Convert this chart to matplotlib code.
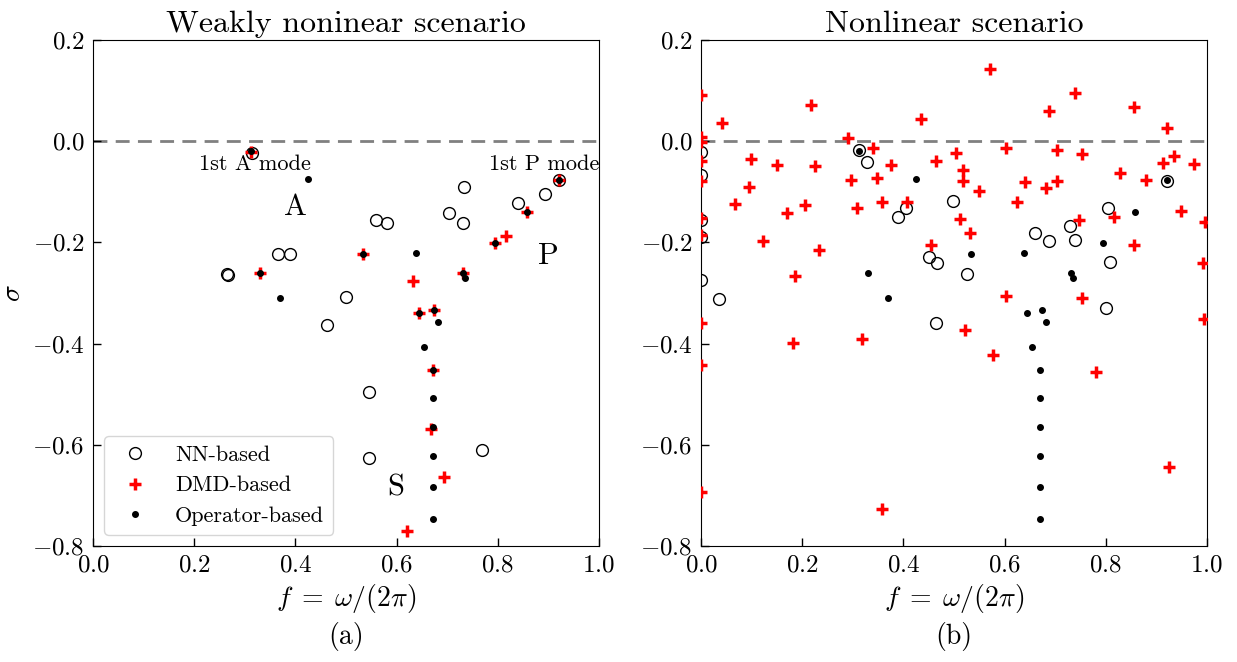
import matplotlib
matplotlib.use("Agg")
import matplotlib.pyplot as plt

plt.rcParams['font.family'] = 'serif'
plt.rcParams['font.serif'] = ['cmr10']
plt.rcParams['mathtext.fontset'] = 'cm'
plt.rcParams['axes.formatter.use_mathtext'] = True

# (a) weakly nonlinear: NN-based modes
nn_a_f = [0.315, 0.365, 0.389, 0.264, 0.267, 0.500, 0.462, 0.921, 0.733, 0.894, 0.839,
          0.559, 0.582, 0.704, 0.731, 0.546, 0.545, 0.769]
nn_a_s = [-0.024, -0.222, -0.223, -0.263, -0.264, -0.308, -0.363, -0.077, -0.090, -0.104, -0.122,
          -0.155, -0.162, -0.142, -0.161, -0.496, -0.626, -0.611]

# (a) DMD-based modes
dmd_a_f = [0.312, 0.331, 0.921, 0.858, 0.816, 0.794, 0.534, 0.632, 0.731, 0.645, 0.674,
           0.672, 0.668, 0.693, 0.621]
dmd_a_s = [-0.021, -0.260, -0.077, -0.139, -0.187, -0.201, -0.223, -0.277, -0.261, -0.340, -0.333,
           -0.452, -0.569, -0.663, -0.771]

# operator-based modes (same in both panels)
op_f = [0.312, 0.424, 0.331, 0.369, 0.921, 0.858, 0.794, 0.534, 0.639, 0.731, 0.735,
        0.645, 0.674, 0.682, 0.655, 0.671, 0.671, 0.671, 0.671, 0.671, 0.671]
op_s = [-0.020, -0.075, -0.260, -0.310, -0.077, -0.139, -0.201, -0.223, -0.221, -0.261, -0.271,
        -0.340, -0.333, -0.357, -0.406, -0.452, -0.507, -0.565, -0.623, -0.683, -0.746]

# (b) nonlinear: NN-based modes
nn_b_f = [0.0, 0.0, 0.0, 0.0, 0.0, 0.036, 0.313, 0.328, 0.405, 0.390, 0.499, 0.921,
          0.804, 0.730, 0.660, 0.688, 0.740, 0.526, 0.809, 0.800, 0.451, 0.466, 0.465]
nn_b_s = [-0.021, -0.067, -0.156, -0.189, -0.275, -0.311, -0.018, -0.041, -0.133, -0.150, -0.118, -0.078,
          -0.133, -0.168, -0.182, -0.198, -0.195, -0.262, -0.238, -0.329, -0.229, -0.241, -0.360]

# (b) DMD-based modes
dmd_b_f = [0.0, 0.0, 0.0, 0.0, 0.0, 0.0, 0.0, 0.0, 0.0, 0.0,
           0.041, 0.099, 0.095, 0.067, 0.151, 0.170, 0.205, 0.218, 0.226, 0.291, 0.340,
           0.296, 0.347, 0.376, 0.309, 0.357, 0.408, 0.435, 0.465,
           0.571, 0.739, 0.687, 0.856, 0.922, 0.504, 0.603, 0.704, 0.753, 0.518, 0.517,
           0.549, 0.640, 0.703, 0.682, 0.828, 0.880, 0.913, 0.935, 0.975, 0.624, 0.512,
           0.817, 0.948, 0.997, 0.747, 0.532, 0.856, 0.992, 0.994, 0.602, 0.753, 0.522,
           0.578, 0.780, 0.925, 0.358, 0.123, 0.233, 0.186, 0.182, 0.319, 0.455]
dmd_b_s = [0.092, 0.009, -0.002, -0.040, -0.079, -0.151, -0.186, -0.359, -0.442, -0.694,
           0.036, -0.035, -0.090, -0.124, -0.048, -0.141, -0.126, 0.072, -0.050, 0.006, -0.014,
           -0.077, -0.073, -0.047, -0.133, -0.121, -0.120, 0.044, -0.039,
           0.143, 0.096, 0.059, 0.067, 0.026, -0.023, -0.013, -0.018, -0.026, -0.057, -0.079,
           -0.098, -0.081, -0.078, -0.093, -0.063, -0.077, -0.044, -0.030, -0.046, -0.121, -0.154,
           -0.149, -0.137, -0.160, -0.156, -0.181, -0.205, -0.240, -0.351, -0.306, -0.310, -0.373,
           -0.423, -0.457, -0.644, -0.726, -0.197, -0.215, -0.267, -0.398, -0.391, -0.205]

fig = plt.figure(figsize=(12.37, 6.62), dpi=100)
ax1 = fig.add_axes([0.0752, 0.1752, 0.409, 0.7644])
ax2 = fig.add_axes([0.5667, 0.1752, 0.409, 0.7644])


def draw(ax, nf, ns, df, ds):
    ax.axhline(0, color='gray', ls='--', lw=2, dashes=(5, 3), zorder=1)
    ax.plot(nf, ns, 'o', ms=8.5, mfc='none', mec='black', mew=1.0, label='NN-based', zorder=2)
    ax.plot(df, ds, '+', ms=8, color='red', mew=2.5, label='DMD-based', zorder=3)
    ax.plot(op_f, op_s, '.', ms=8, color='black', label='Operator-based', zorder=4)
    ax.set_xlim(0, 1)
    ax.set_ylim(-0.8, 0.2)
    ax.set_xticks([0, 0.2, 0.4, 0.6, 0.8, 1.0])
    ax.set_yticks([-0.8, -0.6, -0.4, -0.2, 0.0, 0.2])
    ax.tick_params(direction='in', length=6, width=1, labelsize=18, pad=6)
    ax.set_xlabel(r'$f\;=\;\omega/(2\pi)$', fontsize=20, labelpad=4)


draw(ax1, nn_a_f, nn_a_s, dmd_a_f, dmd_a_s)
draw(ax2, nn_b_f, nn_b_s, dmd_b_f, dmd_b_s)

ax1.set_title('Weakly noninear scenario', fontsize=23)
ax2.set_title('Nonlinear scenario', fontsize=23)
ax1.set_ylabel(r'$\sigma$', fontsize=20)

ax1.text(0.320, -0.046, '1st A mode', fontsize=16, ha='center', va='center')
ax1.text(0.891, -0.046, '1st P mode', fontsize=16, ha='center', va='center')
ax1.text(0.401, -0.131, 'A', fontsize=22, ha='center', va='center')
ax1.text(0.900, -0.228, 'P', fontsize=22, ha='center', va='center')
ax1.text(0.599, -0.684, 'S', fontsize=22, ha='center', va='center')

ax1.text(0.5, -0.178, '(a)', fontsize=20, ha='center', va='center', transform=ax1.transAxes)
ax2.text(0.5, -0.178, '(b)', fontsize=20, ha='center', va='center', transform=ax2.transAxes)

ax1.legend(loc='lower left', fontsize=16)

fig.savefig('out.png', dpi=100)
